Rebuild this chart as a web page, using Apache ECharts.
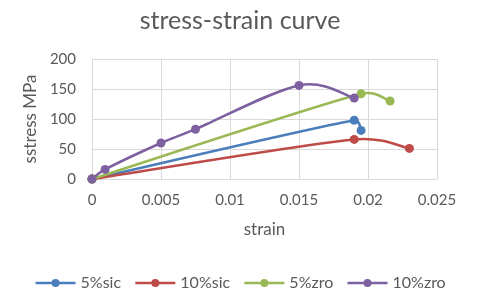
<!DOCTYPE html>
<html><head><meta charset="utf-8">
<script src="https://cdn.jsdelivr.net/npm/echarts@6/dist/echarts.min.js"></script>
<style>html,body{margin:0;padding:0;background:#fff}#c{width:480px;height:303px}</style>
</head><body><div id="c"></div>
<script>
var seriesNames = ['5%sic', '10%sic', '5%zro', '10%zro'];
var sic5Strain = [0, 0.0190, 0.0195];
var sic5Stress = [0, 98, 81];
var sic10Strain = [0, 0.0190, 0.0230];
var sic10Stress = [0, 66, 51];
var zro5Strain = [0, 0.0195, 0.0216];
var zro5Stress = [0, 142, 130];
var zro10Strain = [0, 0.00095, 0.005, 0.0075, 0.0150, 0.0190];
var zro10Stress = [0, 16, 60, 83, 156, 135];
var xTicks = [0, 0.005, 0.01, 0.015, 0.02, 0.025];
var yTicks = [0, 50, 100, 150, 200];
var colors = ['#4A7EBB', '#BE4B48', '#98B954', '#7D60A0'];

function pairs(xs, ys){ return xs.map(function(x,i){ return [x, ys[i]]; }); }
var dataSets = [pairs(sic5Strain, sic5Stress), pairs(sic10Strain, sic10Stress), pairs(zro5Strain, zro5Stress), pairs(zro10Strain, zro10Stress)];
var font = 'Lato, "Open Sans", sans-serif';
var txt = '#595959';

function capVec(vx, vy, maxLen){
  var l = Math.sqrt(vx*vx + vy*vy);
  if (l > maxLen && l > 0){ var s = maxLen / l; return [vx*s, vy*s]; }
  return [vx, vy];
}
// Smoothed curve through the points (spreadsheet-style Bezier smoothing), using the chart's own coordinate conversion
function curveRenderer(idx){
  return function(params, api){
    if (params.dataIndex !== 0) return;
    var pts = dataSets[idx].map(function(d){ return api.coord(d); });
    var kids = [];
    for (var i = 0; i < pts.length - 1; i++){
      var p0 = pts[i-1] || pts[i], p1 = pts[i], p2 = pts[i+1], p3 = pts[i+2] || pts[i+1];
      var d12 = Math.sqrt(Math.pow(p2[0]-p1[0],2) + Math.pow(p2[1]-p1[1],2));
      var v1 = capVec((p2[0]-p0[0])/6, (p2[1]-p0[1])/6, d12/2);
      var v2 = capVec((p3[0]-p1[0])/6, (p3[1]-p1[1])/6, d12/2);
      kids.push({type:'bezierCurve', silent:true, shape:{
        x1:p1[0], y1:p1[1], x2:p2[0], y2:p2[1],
        cpx1:p1[0] + v1[0], cpy1:p1[1] + v1[1],
        cpx2:p2[0] - v2[0], cpy2:p2[1] - v2[1]
      }, style:{stroke:colors[idx], lineWidth:2.5, fill:null, lineCap:'round'}});
    }
    return {type:'group', children:kids};
  };
}

var series = [];
seriesNames.forEach(function(n,i){
  series.push({name:'curve'+i, type:'custom', data:dataSets[i], renderItem:curveRenderer(i), z:1+i*0.01, silent:true});
});
seriesNames.forEach(function(n,i){
  series.push({name:n, type:'line', data:dataSets[i], symbol:'circle', symbolSize:9,
    lineStyle:{width:2.5, color:colors[i], opacity:0}, itemStyle:{color:colors[i]}, z:3+i*0.01});
});

var chart = echarts.init(document.getElementById('c'), null, {renderer:'canvas'});
chart.setOption({
  animation:false,
  color: colors,
  textStyle:{fontFamily:font},
  title:{text:'stress-strain curve', left:'center', top:3, textStyle:{fontFamily:font, fontSize:25, fontWeight:'normal', color:txt}},
  legend:{bottom:7, left:'center', itemWidth:40, itemHeight:10, itemGap:13,
    lineStyle:{opacity:1, width:2.5},
    textStyle:{fontFamily:font, fontSize:16, color:txt}, data: seriesNames},
  grid:{left:92, right:43, top:59, bottom:124, containLabel:false},
  xAxis:{type:'value', min:xTicks[0], max:xTicks[xTicks.length-1], interval:0.005,
    name:'strain', nameLocation:'middle', nameGap:42, nameTextStyle:{fontFamily:font, fontSize:17, color:txt},
    axisLine:{show:true, lineStyle:{color:'#d9d9d9'}}, axisTick:{show:false},
    axisLabel:{fontFamily:font, fontSize:15, color:txt, margin:14},
    splitLine:{show:true, lineStyle:{color:'#d9d9d9'}}},
  yAxis:{type:'value', min:yTicks[0], max:yTicks[yTicks.length-1], interval:50,
    name:'sstress MPa', nameLocation:'middle', nameGap:52, nameRotate:90, nameTextStyle:{fontFamily:font, fontSize:17, color:txt},
    axisLine:{show:false}, axisTick:{show:false},
    axisLabel:{fontFamily:font, fontSize:15, color:txt, margin:16},
    splitLine:{show:true, lineStyle:{color:'#d9d9d9'}}},
  series: series
});
</script></body></html>
